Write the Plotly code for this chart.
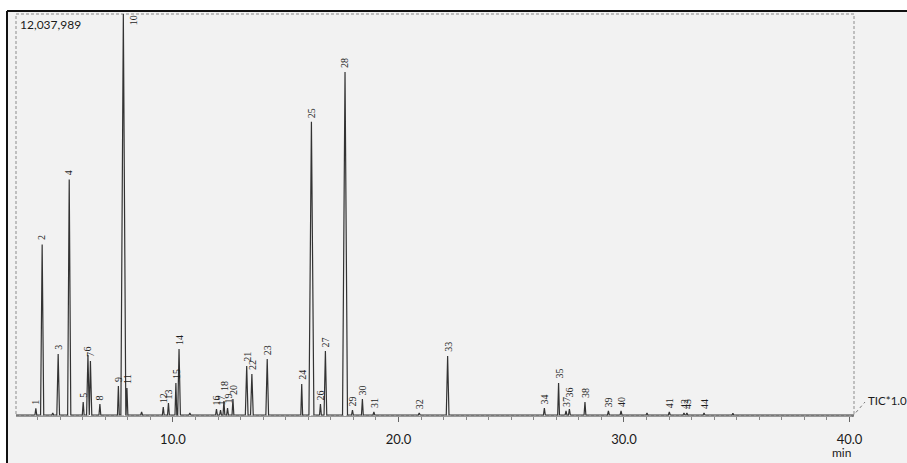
import plotly.graph_objects as go

# ---- data (retention time in min, intensity in counts) ----
peak_labels = ["1", "2", "3", "4", "5", "6", "7", "8", "9", "10", "11", "12", "13",
               "15", "14", "16", "17", "18", "19", "20", "21", "22", "23", "24", "25",
               "26", "27", "28", "29", "30", "31", "32", "33", "34", "35", "37", "36",
               "38", "39", "40", "41", "42", "43", "44"]
peak_times = [3.92, 4.20, 4.91, 5.40, 6.02, 6.23, 6.34, 6.76, 7.58, 7.80, 7.96, 9.57, 9.80,
              10.13, 10.27, 11.93, 12.11, 12.26, 12.42, 12.66, 13.27, 13.50, 14.18, 15.71, 16.14,
              16.54, 16.76, 17.63, 17.96, 18.40, 18.91, 20.92, 22.18, 26.47, 27.10, 27.43, 27.58,
              28.27, 29.31, 29.87, 32.01, 32.66, 32.79, 33.55]
peak_heights = [200000, 5120000, 1830000, 7070000, 390000, 1800000, 1620000, 330000, 870000,
                12037989, 810000, 240000, 360000,
                960000, 1980000, 180000, 150000, 420000, 210000, 480000, 1470000, 1230000,
                1680000, 930000, 8800000,
                330000, 1920000, 10300000, 150000, 480000, 90000, 60000, 1770000, 210000,
                960000, 120000, 180000,
                390000, 120000, 120000, 90000, 60000, 60000, 60000]
minor_times = [4.67, 8.61, 10.75, 31.02, 34.83]
minor_heights = [60000, 90000, 60000, 60000, 50000]
y_max_label = "12,037,989"
x_ticks = [10, 20, 30, 40]

# ---- build the trace from the peak table (apex points joined to the baseline) ----
def half_width(h):
    if h < 1e6:
        return 0.04
    if h < 4e6:
        return 0.06
    if h < 8e6:
        return 0.07
    return 0.11

pts = [(3.0, 0.0), (40.2, 0.0)]
for t, h in list(zip(peak_times, peak_heights)) + list(zip(minor_times, minor_heights)):
    w = half_width(h)
    pts += [(t - w, 0.0), (t, h), (t + w, 0.0)]
pts.sort(key=lambda p: p[0])
xs = [p[0] for p in pts]
ys = [p[1] for p in pts]

fig = go.Figure()
fig.add_trace(go.Scatter(x=xs, y=ys, mode="lines",
                         line=dict(color="#333333", width=1.2), hoverinfo="skip",
                         showlegend=False))

# plot area in pixels: x 16..854, y 14..416 of a 907x463 page
L, R, T, B = 16, 854, 14, 416
W, H = 907, 463
def px(x):
    return (x - L) / (R - L)
def py(y):
    return (B - y) / (B - T)

label_shift = {"18": 6, "36": 8}
label_font = dict(family="Liberation Serif", size=10, color="#1e1e1e")
annotations = []
for lab, t, h in zip(peak_labels, peak_times, peak_heights):
    if lab == "10":
        annotations.append(dict(x=t, xref="x", y=py(13), yref="paper", text=lab,
                                textangle=-90, showarrow=False, xshift=11,
                                xanchor="center", yanchor="top", font=label_font))
        continue
    annotations.append(dict(x=t, y=h, xref="x", yref="y", text=lab, textangle=-90,
                            showarrow=False, xanchor="center", yanchor="bottom",
                            yshift=2 + label_shift.get(lab, 0), font=label_font))

annotations += [
    dict(x=px(18), y=py(24), xref="paper", yref="paper", text=y_max_label, showarrow=False,
         xanchor="left", yanchor="middle", font=dict(family="Lato", size=12, color="#1a1a1a")),
    dict(x=px(866), y=py(400), xref="paper", yref="paper", text="TIC*1.0", showarrow=False,
         xanchor="left", yanchor="middle", font=dict(family="Lato", size=11.5, color="#1a1a1a")),
    dict(x=px(841), y=py(452), xref="paper", yref="paper", text="min", showarrow=False,
         xanchor="center", yanchor="middle", font=dict(family="Lato", size=12, color="#1a1a1a")),
]

shapes = [
    # scanned page background inside the outer frame
    dict(type="rect", xref="paper", yref="paper", x0=px(7), x1=px(W + 2), y0=py(H + 2), y1=py(11),
         fillcolor="#f2f2f2", line=dict(width=0), layer="below"),
    # dashed inner frame
    dict(type="rect", xref="paper", yref="paper", x0=0, x1=1, y0=0, y1=1,
         line=dict(color="#8c8c8c", width=1, dash="3px,2px"), layer="below"),
    # outer black frame (top and left)
    dict(type="line", xref="paper", yref="paper", x0=px(7), x1=px(W + 2), y0=py(11), y1=py(11),
         line=dict(color="#111", width=2)),
    dict(type="line", xref="paper", yref="paper", x0=px(7), x1=px(7), y0=py(11), y1=py(H + 2),
         line=dict(color="#111", width=2)),
    # TIC leader
    dict(type="line", xref="paper", yref="paper", x0=px(852), x1=px(865), y0=py(417), y1=py(402),
         line=dict(color="#777", width=1, dash="dot")),
]

fig.update_layout(
    width=W, height=H,
    margin=dict(l=L, r=W - R, t=T, b=H - B),
    paper_bgcolor="white", plot_bgcolor="rgba(0,0,0,0)",
    showlegend=False,
    annotations=annotations, shapes=shapes,
    xaxis=dict(range=[3.04, 40.2], tickmode="array", tickvals=x_ticks,
               ticktext=[f"{v:.1f}" for v in x_ticks],
               ticks="outside", ticklen=5, tickcolor="#666", tickwidth=1,
               minor=dict(dtick=1, tick0=0, ticks="outside", ticklen=3, tickcolor="#888",
                          showgrid=False),
               showline=True, linecolor="#999", linewidth=1, showgrid=False, zeroline=False,
               ticklabelstandoff=6,
               tickfont=dict(family="Lato", size=13, color="#1a1a1a")),
    yaxis=dict(range=[-30000, 12037989], visible=False, showgrid=False, zeroline=False),
)

fig.write_html("out.html", config={"displayModeBar": False},
               post_script="document.body.style.margin='0';document.body.style.overflow='hidden';")
